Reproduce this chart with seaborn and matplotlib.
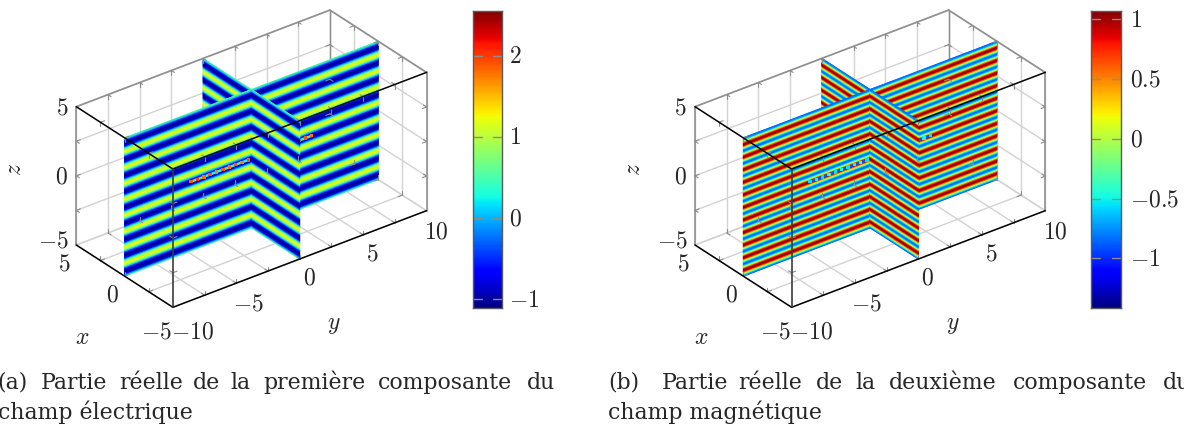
import numpy as np
import matplotlib
matplotlib.use("Agg")
import matplotlib.pyplot as plt
from matplotlib.colors import Normalize
import seaborn as sns

# one period of each field along z
profile_e = [1.22, 1.05, 0.6, 0.0, -0.58, -0.95, -1.07, -0.95, -0.58, 0.0, 0.6, 1.05]
profile_h = [1.05, 0.93, 0.58, 0.08, -0.40, -0.74, -0.87, -0.74, -0.40, 0.08, 0.58, 0.93]

# strip of dots at z = 0 (y position, value), and the colour value between dots
strip_y = [-4.75, -4.25, -3.75, -3.25, -2.75, -2.25, -1.75, -1.25, -0.75, -0.25,
           0.25, 0.75, 1.25, 1.75, 2.25, 2.75, 3.25, 3.75, 4.25, 4.75]
strip_e = [1.9, 2.0, 1.8, 1.9, 1.7, 1.9, 1.8, 1.9, 1.7, 1.9,
           1.9, 1.7, 1.9, 1.8, 1.9, 1.7, 1.9, 1.8, 1.9, 1.8]
strip_h = [-0.55, -0.5, -0.55, -0.45, -0.55, -0.5, -0.55, -0.5, -0.45, -0.55,
           -0.55, -0.45, -0.5, -0.55, -0.5, -0.55, -0.45, -0.55, -0.5, -0.55]
strip_gap_e = 0.3
strip_gap_h = -0.9

x_ticks = [-5, -2.5, 0, 2.5, 5]
y_ticks = [-10, -7.5, -5, -2.5, 0, 2.5, 5, 7.5, 10]
z_ticks = [-5, -2.5, 0, 2.5, 5]
x_labels = [5, 0, -5]
y_labels = [-10, -5, 0, 5, 10]
z_labels = [5, 0, -5]
cbar_ticks_e = [2, 1, 0, -1]
cbar_ticks_h = [1, 0.5, 0, -0.5, -1]
cbar_range_e = (-1.11, 2.56)
cbar_range_h = (-1.415, 1.075)

caption_words_a = ["(a)", "Partie", "réelle", "de", "la", "première", "composante", "du"]
caption_words_b = ["(b)", "Partie", "réelle", "de", "la", "deuxième", "composante", "du"]
caption_x_a = [-3, 40.6, 118.8, 192.8, 230, 263.4, 378, 527]
caption_x_b = [608, 661.4, 738.7, 816, 855.6, 889, 1012.8, 1163]
caption_line2_a = "champ électrique"
caption_line2_b = "champ magnétique"

sns.set_theme(style="white")
plt.rcParams["mathtext.fontset"] = "cm"
plt.rcParams["font.family"] = ["DejaVu Serif"]
jet = matplotlib.colormaps["jet"]

W, H = 1184, 427
fig = plt.figure(figsize=(W / 100, H / 100), dpi=100)
ax = fig.add_axes([0, 0, 1, 1])
ax.set_xlim(0, W)
ax.set_ylim(H, 0)
ax.axis("off")

TICK_FS = 17
GRID = "#d2d2d2"
BACK = "#909090"
TICK = "#8c8c8c"


def num(v):
    return "$%g$" % v


def draw_panel(origin, profile, n_levels, phase, strip, strip_gap, cbar_x, cbar_range, cbar_ticks, cbar_text_x):
    ex = np.array([-9.66, -6.23])
    ey = np.array([12.68, -4.83])
    ez = np.array([0.0, -13.83])

    def proj(x, y, z):
        x, y, z = np.asarray(x, float), np.asarray(y, float), np.asarray(z, float)
        px = origin[0] + (x + 5) * ex[0] + (y + 10) * ey[0]
        py = origin[1] + (x + 5) * ex[1] + (y + 10) * ey[1] + (z + 5) * ez[1]
        return px, py

    def seg(a, b, **kw):
        p = proj(*a)
        q = proj(*b)
        ax.plot([p[0], q[0]], [p[1], q[1]], solid_capstyle="round", **kw)

    norm = Normalize(*cbar_range)

    # grid on the three back faces
    gk = dict(color=GRID, lw=1.0, zorder=1)
    for y in y_ticks:
        seg((5, y, -5), (5, y, 5), **gk)
        seg((-5, y, -5), (5, y, -5), **gk)
    for z in z_ticks:
        seg((5, -10, z), (5, 10, z), **gk)
        seg((-5, 10, z), (5, 10, z), **gk)
    for x in x_ticks:
        seg((x, 10, -5), (x, 10, 5), **gk)
        seg((x, -10, -5), (x, 10, -5), **gk)

    # back box edges
    bk = dict(color=BACK, lw=1.2, zorder=2)
    seg((5, -10, 5), (5, 10, 5), **bk)
    seg((5, 10, 5), (-5, 10, 5), **bk)
    seg((5, -10, -5), (5, -10, 5), **bk)
    seg((-5, 10, -5), (-5, 10, 5), **bk)
    seg((5, 10, -5), (5, 10, 5), **dict(bk, lw=1.0))

    # field on the two planes
    levels = -5 + np.arange(n_levels + 1) * 10 / n_levels
    vals = np.array([profile[(i + phase) % len(profile)] for i in range(n_levels + 1)])
    c = np.column_stack([vals, vals])

    def plane(x0, x1, y0, y1, zo):
        xs = np.column_stack([np.full_like(levels, x0), np.full_like(levels, x1)])
        ys = np.column_stack([np.full_like(levels, y0), np.full_like(levels, y1)])
        zs = np.column_stack([levels, levels])
        px, py = proj(xs, ys, zs)
        ax.pcolormesh(px, py, c, shading="gouraud", cmap=jet, norm=norm, zorder=zo)

    def dots(sel, zo):
        px, py = proj(np.zeros(len(sel)), [strip_y[i] for i in sel], np.zeros(len(sel)))
        ax.plot(px, py, color=jet(norm(strip_gap)), lw=1.8, zorder=zo, solid_capstyle="butt")
        sns.scatterplot(x=px, y=py, hue=[strip[i] for i in sel], palette=jet, hue_norm=norm,
                        marker="s", s=6, linewidth=0, legend=False, ax=ax, zorder=zo + 0.1)

    plane(0, 0, 0, 10, 3)
    plane(5, 0, 0, 0, 3)
    dots([i for i in range(20) if strip_y[i] > 3.7], 3.5)
    plane(0, 0, -10, 0, 4)
    plane(0, -5, 0, 0, 4)
    dots([i for i in range(20) if strip_y[i] < 0], 4.5)

    # tick marks on all box edges
    tk = dict(color=TICK, lw=0.8, zorder=5)
    for y in y_ticks[1:-1]:
        for xe, ze in [(-5, -5), (5, -5), (-5, 5), (5, 5)]:
            sx = -1 if xe > 0 else 1
            sz = -1 if ze > 0 else 1
            seg((xe, y, ze), (xe + 0.32 * sx, y, ze), **tk)
            seg((xe, y, ze), (xe, y, ze + 0.3 * sz), **tk)
    for x in x_ticks[1:-1]:
        for ye, ze in [(-10, -5), (10, -5), (-10, 5), (10, 5)]:
            sy = -1 if ye > 0 else 1
            sz = -1 if ze > 0 else 1
            seg((x, ye, ze), (x, ye + 0.32 * sy, ze), **tk)
            seg((x, ye, ze), (x, ye, ze + 0.3 * sz), **tk)
    for z in z_ticks[1:-1]:
        for xe, ye in [(-5, -10), (5, -10), (-5, 10), (5, 10)]:
            sx = -1 if xe > 0 else 1
            sy = -1 if ye > 0 else 1
            seg((xe, ye, z), (xe + 0.32 * sx, ye, z), **tk)
            seg((xe, ye, z), (xe, ye + 0.32 * sy, z), **tk)

    # front box edges
    fk = dict(color="black", lw=1.1, zorder=6)
    seg((5, -10, 5), (-5, -10, 5), **fk)
    seg((-5, -10, 5), (-5, 10, 5), **fk)
    seg((5, -10, -5), (-5, -10, -5), **fk)
    seg((-5, -10, -5), (-5, 10, -5), **fk)
    seg((-5, -10, -5), (-5, -10, 5), color="#3c3c3c", lw=1.2, zorder=6)

    # tick labels
    for v, (dx, dy) in zip(y_labels, [(19.5, 24), (11.8, 20), (9.3, 18), (9, 18.5), (10.3, 20)]):
        p = proj(-5, v, -5)
        ax.text(p[0] + dx, p[1] + dy, num(v), fontsize=TICK_FS, ha="center", va="center", zorder=7)
    for v, (dx, dy) in zip(x_labels, [(-11.7, 18.5), (-12, 18), (-16, 24)]):
        p = proj(v, -10, -5)
        ax.text(p[0] + dx, p[1] + dy, num(v), fontsize=TICK_FS, ha="center", va="center", zorder=7)
    for v, (dx, dy) in zip(z_labels, [(-14.4, 0), (-14.4, 0), (-23, -4.5)]):
        p = proj(5, -10, v)
        ax.text(p[0] + dx, p[1] + dy, num(v), fontsize=TICK_FS, ha="center", va="center", zorder=7)

    p = proj(0, -10, -5)
    ax.text(p[0] - 42, p[1] + 60, "$x$", fontsize=TICK_FS, ha="center", va="center")
    p = proj(-5, 0, -5)
    ax.text(p[0] + 34.4, p[1] + 65, "$y$", fontsize=TICK_FS, ha="center", va="center")
    p = proj(5, -10, 0)
    ax.text(p[0] - 62, p[1] - 7, "$z$", fontsize=TICK_FS, ha="center", va="center", rotation=90)

    # colour bar
    top, bottom = 11.5, 309.0
    cax = fig.add_axes([cbar_x[0] / W, 1 - bottom / H, (cbar_x[1] - cbar_x[0]) / W, (bottom - top) / H])
    grad = np.linspace(cbar_range[1], cbar_range[0], 256)[:, None]
    sns.heatmap(grad, ax=cax, cmap=jet, vmin=cbar_range[0], vmax=cbar_range[1], cbar=False,
                xticklabels=False, yticklabels=False)
    for s in cax.spines.values():
        s.set_visible(True)
        s.set_color("#5a5a5a")
        s.set_linewidth(1.0)
    for v in cbar_ticks:
        r = (cbar_range[1] - v) / (cbar_range[1] - cbar_range[0]) * 256
        cax.plot([0, 0.3], [r, r], color=TICK, lw=1.0)
        cax.plot([0.7, 1], [r, r], color=TICK, lw=1.0)
        py = top + r / 256 * (bottom - top)
        ax.text(cbar_text_x, py, num(v), fontsize=TICK_FS, ha="left", va="center")


draw_panel((172.9, 308.3), profile_e, 104, 2, strip_e, strip_gap_e, (473.1, 502.1), cbar_range_e, cbar_ticks_e, 509)
draw_panel((791.6, 308.3), profile_h, 132, 6, strip_h, strip_gap_h, (1091.2, 1120.7), cbar_range_h, cbar_ticks_h, 1130)

CAP_FS = 15.8
for word, x in zip(caption_words_a, caption_x_a):
    ax.text(x, 389, word, fontsize=CAP_FS, ha="left", va="baseline")
for word, x in zip(caption_words_b, caption_x_b):
    ax.text(x, 389, word, fontsize=CAP_FS, ha="left", va="baseline")
ax.text(-2, 419, caption_line2_a, fontsize=CAP_FS, ha="left", va="baseline")
ax.text(608, 419, caption_line2_b, fontsize=CAP_FS, ha="left", va="baseline")

fig.savefig("out.png", dpi=100)
